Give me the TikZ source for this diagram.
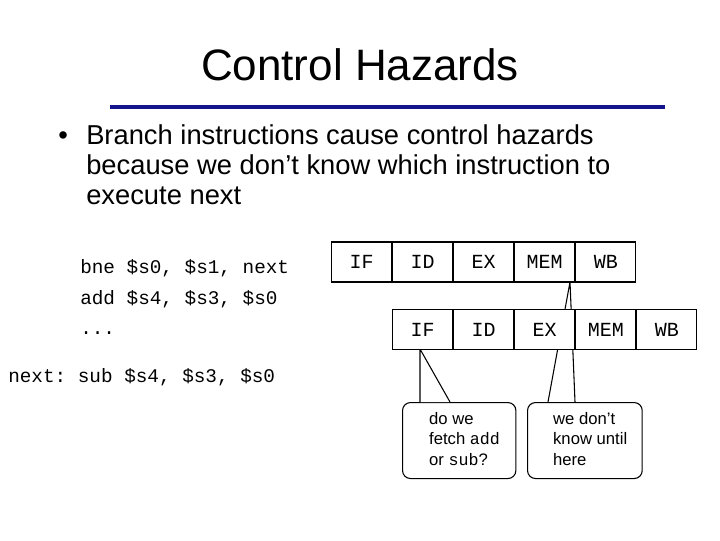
\documentclass[tikz,border=0pt]{standalone}
\usepackage{fontspec}
\setmainfont{Liberation Sans}
\setmonofont{Liberation Mono}
\usetikzlibrary{positioning}
\definecolor{navy}{RGB}{20,20,140}
\tikzset{
  stage/.style={draw=black, thick, fill=white, minimum width=45pt, minimum height=30pt, inner sep=0pt, font=\ttfamily\fontsize{15}{15}\selectfont},
  code/.style={anchor=base west, inner sep=0pt, font=\ttfamily\fontsize{14.5}{15}\selectfont},
  callout/.style={draw=black, thick, fill=white, rounded corners=6pt, minimum height=57pt, align=left, anchor=north west, inner sep=0pt, font=\fontsize{12.5}{15.5}\selectfont},
  tail/.style={thick}
}
\begin{document}
\begin{tikzpicture}[x=0.75pt, y=-0.75pt]
\useasboundingbox (0,0) rectangle (720,540);
\node (title) at (360,65) {\fontsize{33}{36}\selectfont Control Hazards};
\coordinate (ruleL) at (110,107);
\coordinate (ruleR) at (665,107);
\draw[navy, line width=3pt] (ruleL) -- (ruleR);
\node (bullet) [anchor=north west, align=left, inner sep=0pt, font=\fontsize{20.5}{22.5}\selectfont] at (58,124)
  {\makebox[21pt][l]{\textbullet}Branch instructions cause control hazards\\
   \hspace*{21pt}because we don't know which instruction to\\
   \hspace*{21pt}execute next};
% code
\node (c1) [code] at (80,273) {bne \$s0, \$s1, next};
\node (c2) [code] at (80,304) {add \$s4, \$s3, \$s0};
\node (c3) [code] at (80,334) {...};
\node (c4) [code] at (8,382) {next: sub \$s4, \$s3, \$s0};
% callouts (drawn below the stages)
\node (ask) [callout, minimum width=85pt] at (402,402)
  {\hspace*{8pt}\begin{tabular}{@{}l@{}}do we\\ fetch \texttt{add}\\ or \texttt{sub}?\end{tabular}};
\node (know) [callout, minimum width=86pt] at (527,402)
  {\hspace*{8pt}\begin{tabular}{@{}l@{}}we don't\\ know until\\ here\end{tabular}};
\coordinate (tipA) at (420,349);
\coordinate (tipB) at (570,282);
\draw[tail, fill=white] (420,402) -- (tipA) -- (450,402);
\draw[tail] (548,402) -- (tipB) -- (575,402);
% pipeline stages
\node (if1) [stage] at (361.5,262) {IF};
\node (id1) [stage, right=0pt of if1] {ID};
\node (ex1) [stage, right=0pt of id1] {EX};
\node (mem1) [stage, right=0pt of ex1] {MEM};
\node (wb1) [stage, right=0pt of mem1] {WB};
\node (if2) [stage, below=20pt of id1] {IF};
\node (id2) [stage, right=0pt of if2] {ID};
\node (ex2) [stage, right=0pt of id2] {EX};
\node (mem2) [stage, right=0pt of ex2] {MEM};
\node (wb2) [stage, right=0pt of mem2] {WB};
\end{tikzpicture}
\end{document}
